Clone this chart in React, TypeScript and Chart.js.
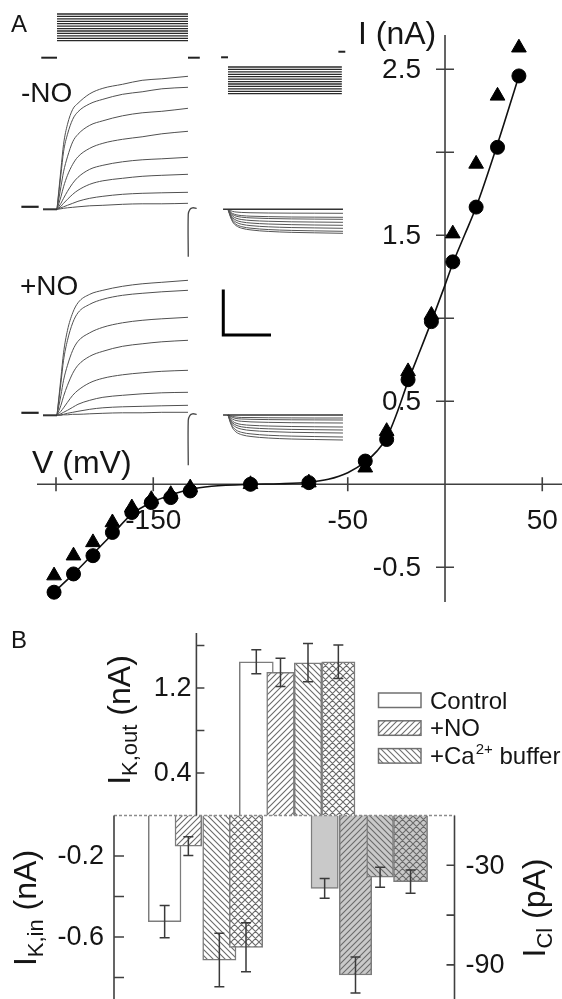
import React, { useEffect, useRef } from 'react';
import { Chart, registerables } from 'chart.js';
Chart.register(...registerables);

const FONT = '"Liberation Sans", Arial, Helvetica, sans-serif';

// ================= Panel A: I–V relation =================
const IV_V = [-201, -191, -181, -171, -161, -151, -141, -131, -100, -70, -41, -30, -19, -7, 4, 16, 27, 38];
const IV_CONTROL = [-0.65, -0.54, -0.43, -0.29, -0.17, -0.11, -0.08, -0.04, 0, 0.01, 0.14, 0.27, 0.63, 0.98, 1.34, 1.67, 2.03, 2.46];
const IV_PLUS_NO = [-0.55, -0.43, -0.35, -0.23, -0.14, -0.09, -0.06, -0.02, 0, 0.01, 0.1, 0.32, 0.68, 1.02, 1.51, 1.93, 2.34, 2.63];
const FIT_V = [-202, -191, -181, -171, -161, -151, -141, -131, -120, -100, -85, -70, -60, -50, -41, -35, -30, -25, -19, -13, -7, 0, 4, 10, 16, 27, 38];
const FIT_I = [-0.66, -0.54, -0.42, -0.3, -0.18, -0.11, -0.065, -0.03, -0.012, 0, 0.003, 0.012, 0.03, 0.07, 0.135, 0.2, 0.28, 0.42, 0.62, 0.8, 0.98, 1.2, 1.33, 1.5, 1.67, 2.05, 2.46];
const IV_X_TICKS = [-200, -150, -100, -50, 50];
const IV_X_LABELS = ['', '-150', '', '-50', '50'];
const IV_Y_TICKS = [-0.5, 0.5, 1, 1.5, 2, 2.5];
const IV_Y_LABELS = ['-0.5', '0.5', '', '1.5', '', '2.5'];
const IV_X_TITLE = 'V (mV)';
const IV_Y_TITLE = 'I (nA)';
const LABEL_MINUS = '-NO';
const LABEL_PLUS = '+NO';

// voltage protocols (mV)
const HOLD_MV = -100;
const PROTO_OUT_MV = [-30, -20, -10, 0, 10, 20, 30, 40, 50, 60, 70, 80];
const PROTO_IN_MV = [-140, -150, -160, -170, -180, -190, -200, -210, -220, -230, -240, -250];

// outward current traces (time in ms, current in nA)
const T_OUT = [0, 3, 5, 8, 12, 16, 25, 35, 50, 65, 80, 100];
const OUT_MINUS_NO = [
  [0, 0.8, 1.3, 1.7, 2.0, 2.12, 2.31, 2.42, 2.5, 2.58, 2.61, 2.66],
  [0, 0.7, 1.15, 1.5, 1.8, 1.95, 2.11, 2.2, 2.3, 2.35, 2.41, 2.44],
  [0, 0.45, 0.75, 1.05, 1.35, 1.5, 1.68, 1.77, 1.87, 1.93, 1.96, 2.02],
  [0, 0.25, 0.45, 0.68, 0.9, 1.05, 1.22, 1.32, 1.4, 1.45, 1.51, 1.56],
  [0, 0.12, 0.22, 0.36, 0.52, 0.64, 0.8, 0.88, 0.95, 0.99, 1.01, 1.04],
  [0, 0.06, 0.12, 0.2, 0.3, 0.38, 0.5, 0.57, 0.62, 0.66, 0.68, 0.7],
  [0, 0.03, 0.05, 0.08, 0.12, 0.16, 0.22, 0.26, 0.3, 0.32, 0.33, 0.34],
  [0, 0.01, 0.02, 0.03, 0.04, 0.05, 0.07, 0.08, 0.1, 0.11, 0.11, 0.12],
];
const OUT_PLUS_NO = [
  [0, 0.75, 1.25, 1.7, 2.05, 2.25, 2.42, 2.5, 2.58, 2.63, 2.66, 2.7],
  [0, 0.65, 1.1, 1.5, 1.85, 2.05, 2.22, 2.32, 2.4, 2.44, 2.47, 2.5],
  [0, 0.4, 0.7, 1.0, 1.3, 1.48, 1.65, 1.76, 1.85, 1.9, 1.93, 1.96],
  [0, 0.2, 0.38, 0.6, 0.84, 1.0, 1.18, 1.28, 1.38, 1.43, 1.47, 1.5],
  [0, 0.08, 0.15, 0.26, 0.4, 0.5, 0.65, 0.74, 0.81, 0.85, 0.88, 0.9],
  [0, 0.03, 0.06, 0.1, 0.16, 0.22, 0.3, 0.36, 0.4, 0.43, 0.45, 0.46],
  [0, 0.01, 0.02, 0.04, 0.06, 0.08, 0.12, 0.15, 0.17, 0.18, 0.19, 0.2],
  [0, 0, 0.01, 0.01, 0.02, 0.02, 0.03, 0.04, 0.05, 0.05, 0.06, 0.06],
];
const TAIL_T = [100.2, 100.2, 101.5, 103.5, 106.6];
const TAIL_MINUS_NO = [-0.95, -0.1, 0.0, 0.03, 0.02];
const TAIL_PLUS_NO = [-1.0, -0.1, 0.0, 0.03, 0.02];

// inward current traces
const T_IN = [0, 2, 4, 7, 12, 20, 35, 55, 75, 100];
const IN_MINUS_NO = [
  [0, -0.024, -0.042, -0.054, -0.063, -0.069, -0.074, -0.077, -0.078, -0.08],
  [0, -0.048, -0.083, -0.109, -0.126, -0.138, -0.147, -0.154, -0.157, -0.16],
  [0, -0.06, -0.104, -0.136, -0.158, -0.172, -0.184, -0.192, -0.196, -0.2],
  [0, -0.078, -0.135, -0.177, -0.205, -0.224, -0.239, -0.25, -0.255, -0.26],
  [0, -0.096, -0.166, -0.218, -0.253, -0.275, -0.294, -0.307, -0.314, -0.32],
  [0, -0.114, -0.198, -0.258, -0.3, -0.327, -0.35, -0.365, -0.372, -0.38],
  [0, -0.132, -0.229, -0.3, -0.348, -0.378, -0.405, -0.422, -0.431, -0.44],
  [0, -0.144, -0.25, -0.326, -0.379, -0.413, -0.442, -0.461, -0.47, -0.48],
];
const IN_PLUS_NO = [
  [0, -0.02, -0.03, -0.04, -0.05, -0.05, -0.055, -0.058, -0.06, -0.06],
  [0, -0.03, -0.05, -0.07, -0.08, -0.086, -0.092, -0.096, -0.098, -0.1],
  [0, -0.05, -0.083, -0.11, -0.126, -0.138, -0.147, -0.154, -0.157, -0.16],
  [0, -0.072, -0.125, -0.163, -0.19, -0.206, -0.22, -0.23, -0.235, -0.24],
  [0, -0.09, -0.156, -0.204, -0.237, -0.258, -0.276, -0.288, -0.294, -0.3],
  [0, -0.108, -0.187, -0.245, -0.284, -0.31, -0.331, -0.346, -0.353, -0.36],
  [0, -0.132, -0.229, -0.3, -0.348, -0.378, -0.405, -0.422, -0.431, -0.44],
  [0, -0.15, -0.26, -0.34, -0.395, -0.43, -0.46, -0.48, -0.49, -0.5],
];
const SCALE_BAR_NA = 0.91;
const SCALE_BAR_MS = 41.5;

// ================= Panel B: bar summary =================
const CONDITIONS = ['Control', '+NO', '+Ca2+ buffer', '+NO +Ca2+ buffer'];
const K_OUT_MEAN = [1.447, 1.348, 1.438, 1.447];
const K_OUT_SEM = [0.113, 0.133, 0.18, 0.158];
const K_IN_MEAN = [-0.524, -0.151, -0.714, -0.651];
const K_IN_SEM = [0.08, 0.046, 0.132, 0.121];
const CL_MEAN = [-43.9, -96.1, -37.2, -39.9];
const CL_SEM = [6, 10.8, 6, 7];
const B_OUT_TICKS = [0.4, 0.8, 1.2, 1.6];
const B_OUT_LABELS = ['0.4', '', '1.2', ''];
const B_IN_TICKS = [-0.2, -0.4, -0.6, -0.8];
const B_IN_LABELS = ['-0.2', '', '-0.6', ''];
const B_CL_TICKS = [-30, -60, -90];
const B_CL_LABELS = ['-30', '', '-90'];

// ---------- layout (pixels) ----------
const B_X0 = 114; // page x of chart-area left edge in panel B
const B_SLOTS: Record<string, number[][]> = {
  kin: [[148.3, 181], [175, 201.7], [202.7, 236], [229.3, 262.7]],
  kout: [[239.3, 273.3], [266.7, 294.3], [294.3, 321.7], [321.7, 355]],
  cl: [[311, 338.3], [339.3, 371.7], [366.7, 393.5], [393.5, 427.6]],
};
const B_AXIS_OUT_X = 196.4 - B_X0;

type Pt = { x: number; y: number };
const pts = (xs: number[], ys: number[]): Pt[] => xs.map((x, i) => ({ x, y: ys[i] }));
const seg = (x0: number, x1: number, y: number): Pt[] => [{ x: x0, y }, { x: x1, y }];

function lineDs(data: Pt[], color: string, width: number, extra: any = {}) {
  return {
    type: 'line',
    data,
    borderColor: color,
    borderWidth: width,
    pointRadius: 0,
    fill: false,
    cubicInterpolationMode: 'monotone',
    borderCapStyle: 'butt',
    ...extra,
  };
}

function traceConfig(datasets: any[], xr: number[], yr: number[]) {
  return {
    type: 'line',
    data: { datasets },
    options: {
      animation: false,
      responsive: false,
      maintainAspectRatio: false,
      layout: { padding: 0, autoPadding: false },
      scales: {
        x: { type: 'linear', display: false, min: xr[0], max: xr[1] },
        y: { type: 'linear', display: false, min: yr[0], max: yr[1] },
      },
      plugins: { legend: { display: false }, tooltip: { enabled: false } },
    },
  };
}

const X_OUT = [-32.06, 112.98];
const X_IN = [-20, 114.8];

const makeProtoOut = () =>
  traceConfig(
    [
      ...PROTO_OUT_MV.map((v) => lineDs(seg(0, 100, v), '#2a2a2a', 1.3)),
      lineDs(seg(-12, 0, HOLD_MV), '#222', 2),
      lineDs(seg(100, 109, HOLD_MV), '#222', 2),
    ],
    X_OUT,
    [-130.1, 117.1]
  );

const makeProtoIn = () =>
  traceConfig(
    [
      ...PROTO_IN_MV.map((v) => lineDs(seg(0, 99, v), '#2a2a2a', 1.3)),
      lineDs(seg(-6, 0, HOLD_MV), '#222', 2),
      lineDs(seg(96, 102, HOLD_MV + 23), '#222', 2),
    ],
    X_IN,
    [-275.9, -49.3]
  );

const makeOut = (traces: number[][], tail: number[]) => () =>
  traceConfig(
    [
      lineDs(seg(-27.2, -14, 0.05), '#222', 2.2),
      lineDs(seg(-10.7, 0, 0), '#333', 2),
      ...traces.map((t) => lineDs(pts(T_OUT, t), '#505050', 1)),
      lineDs(pts(TAIL_T, tail), '#444', 1.3, { cubicInterpolationMode: 'default', tension: 0.3 }),
    ],
    X_OUT,
    [-1.214, 2.986]
  );

const makeInMinus = () =>
  traceConfig(
    [
      lineDs(seg(-4.3, 100, 0), '#333', 1.6),
      ...IN_MINUS_NO.map((t) => lineDs(pts(T_IN, t), '#555', 1)),
    ],
    X_IN,
    [-0.714, 0.286]
  );

const makeInPlus = () =>
  traceConfig(
    [
      lineDs(seg(-4.3, 100, 0), '#333', 1.6),
      ...IN_PLUS_NO.map((t) => lineDs(pts(T_IN, t), '#555', 1)),
      lineDs(
        [
          { x: -4.1, y: 1.6 + SCALE_BAR_NA },
          { x: -4.1, y: 1.6 },
          { x: -4.1 + SCALE_BAR_MS, y: 1.6 },
        ],
        '#000',
        3,
        { cubicInterpolationMode: 'default', tension: 0, borderJoinStyle: 'miter' }
      ),
    ],
    X_IN,
    [-0.7, 2.7]
  );

const ivDecor = {
  id: 'ivDecor',
  beforeDatasetsDraw(chart: any) {
    const { ctx, chartArea: a, scales } = chart;
    const xs = scales.x;
    const ys = scales.y;
    const x0 = xs.getPixelForValue(0);
    const y0 = ys.getPixelForValue(0);
    ctx.save();
    ctx.strokeStyle = '#404040';
    ctx.lineWidth = 1.6;
    ctx.beginPath();
    ctx.moveTo(a.left, y0);
    ctx.lineTo(a.right, y0);
    ctx.moveTo(x0, a.top);
    ctx.lineTo(x0, a.bottom);
    IV_X_TICKS.forEach((v) => {
      const p = xs.getPixelForValue(v);
      ctx.moveTo(p, y0 - 7);
      ctx.lineTo(p, y0 + 7);
    });
    IV_Y_TICKS.forEach((v) => {
      const p = ys.getPixelForValue(v);
      ctx.moveTo(x0 - 9, p);
      ctx.lineTo(x0 + 9, p);
    });
    ctx.stroke();
    ctx.fillStyle = '#151515';
    ctx.font = `28px ${FONT}`;
    ctx.textAlign = 'center';
    ctx.textBaseline = 'top';
    IV_X_TICKS.forEach((v, i) => {
      if (IV_X_LABELS[i]) ctx.fillText(IV_X_LABELS[i], xs.getPixelForValue(v), y0 + 23);
    });
    ctx.textAlign = 'right';
    ctx.textBaseline = 'middle';
    IV_Y_TICKS.forEach((v, i) => {
      if (IV_Y_LABELS[i]) ctx.fillText(IV_Y_LABELS[i], x0 - 24, ys.getPixelForValue(v) + 1);
    });
    ctx.textAlign = 'left';
    ctx.textBaseline = 'alphabetic';
    ctx.font = `32px ${FONT}`;
    ctx.fillText(IV_Y_TITLE, 358, 44);
    ctx.fillText(IV_X_TITLE, 32, 473);
    ctx.font = `24px ${FONT}`;
    ctx.fillText('A', 11, 32);
    ctx.font = `28px ${FONT}`;
    ctx.fillText(LABEL_MINUS, 21, 102);
    ctx.fillText(LABEL_PLUS, 20, 295);
    ctx.restore();
  },
};

const makeIV = () => ({
  type: 'scatter',
  data: {
    datasets: [
      {
        label: 'Control',
        data: pts(IV_V, IV_CONTROL),
        pointStyle: 'circle',
        pointRadius: 7,
        borderWidth: 1,
        backgroundColor: '#000',
        borderColor: '#000',
      },
      {
        label: '+NO',
        data: pts(IV_V, IV_PLUS_NO),
        pointStyle: 'triangle',
        pointRadius: 8.5,
        borderWidth: 1,
        backgroundColor: '#000',
        borderColor: '#000',
      },
      {
        label: 'fit',
        data: pts(FIT_V, FIT_I),
        showLine: true,
        pointRadius: 0,
        borderColor: '#111',
        borderWidth: 1.6,
        cubicInterpolationMode: 'monotone',
      },
    ],
  },
  options: {
    animation: false,
    responsive: false,
    maintainAspectRatio: false,
    layout: { padding: { left: 37, top: 35, right: 0, bottom: 18 }, autoPadding: false },
    scales: {
      x: { type: 'linear', display: false, min: -209.77, max: 60.15 },
      y: { type: 'linear', display: false, min: -0.709, max: 2.7066 },
    },
    plugins: { legend: { display: false }, tooltip: { enabled: false } },
  },
  plugins: [ivDecor],
});

function makeHatch(kind: string, bg: string, line: string) {
  const s = kind === 'cross' ? 7 : 6;
  const c = document.createElement('canvas');
  c.width = s;
  c.height = s;
  const g = c.getContext('2d')!;
  g.fillStyle = bg;
  g.fillRect(0, 0, s, s);
  g.strokeStyle = line;
  g.lineWidth = 1.1;
  g.beginPath();
  if (kind === 'fwd' || kind === 'cross') {
    g.moveTo(-1, s + 1);
    g.lineTo(s + 1, -1);
    g.moveTo(-1, 1);
    g.lineTo(1, -1);
    g.moveTo(s - 1, s + 1);
    g.lineTo(s + 1, s - 1);
  }
  if (kind === 'back' || kind === 'cross') {
    g.moveTo(-1, -1);
    g.lineTo(s + 1, s + 1);
    g.moveTo(s - 1, -1);
    g.lineTo(s + 1, 1);
    g.moveTo(-1, s - 1);
    g.lineTo(1, s + 1);
  }
  g.stroke();
  return g.createPattern(c, 'repeat');
}

const KINDS = ['none', 'fwd', 'back', 'cross'];

function drawRotTitle(ctx: any, cx: number, cy: number, main: string, sub: string, rest: string, size: number) {
  ctx.save();
  ctx.translate(cx, cy);
  ctx.rotate(-Math.PI / 2);
  ctx.textAlign = 'left';
  ctx.textBaseline = 'alphabetic';
  ctx.font = `${size}px ${FONT}`;
  const w1 = ctx.measureText(main).width;
  const w3 = ctx.measureText(rest).width;
  const subSize = Math.round(size * 0.68);
  ctx.font = `${subSize}px ${FONT}`;
  const w2 = ctx.measureText(sub).width;
  let x = -(w1 + w2 + w3) / 2;
  const base = size * 0.36;
  ctx.font = `${size}px ${FONT}`;
  ctx.fillText(main, x, base);
  x += w1;
  ctx.font = `${subSize}px ${FONT}`;
  ctx.fillText(sub, x, base + size * 0.22);
  x += w2;
  ctx.font = `${size}px ${FONT}`;
  ctx.fillText(rest, x, base);
  ctx.restore();
}

const bDecor = {
  id: 'bDecor',
  afterDatasetsDraw(chart: any) {
    const { ctx, chartArea: a, scales } = chart;
    const { x: xs, yIn, yOut, yCl } = scales;
    const z = yIn.getPixelForValue(0);
    ctx.save();
    // error bars
    ctx.strokeStyle = '#3a3a3a';
    ctx.lineWidth = 1.5;
    chart.data.datasets.forEach((ds: any, i: number) => {
      const bar = chart.getDatasetMeta(i).data[0];
      const sc = scales[ds.yAxisID];
      const v = ds.data[0].y;
      const e = ds.errorBars[0];
      const t = sc.getPixelForValue(v + e);
      const b = sc.getPixelForValue(v - e);
      ctx.beginPath();
      ctx.moveTo(bar.x, t);
      ctx.lineTo(bar.x, b);
      ctx.moveTo(bar.x - 5, t);
      ctx.lineTo(bar.x + 5, t);
      ctx.moveTo(bar.x - 5, b);
      ctx.lineTo(bar.x + 5, b);
      ctx.stroke();
    });
    // zero line
    ctx.strokeStyle = '#8c8c8c';
    ctx.setLineDash([3, 2]);
    ctx.beginPath();
    ctx.moveTo(a.left, z);
    ctx.lineTo(a.right, z);
    ctx.stroke();
    ctx.setLineDash([]);
    // axes
    const xo = xs.getPixelForValue(B_AXIS_OUT_X);
    ctx.strokeStyle = '#404040';
    ctx.lineWidth = 1.6;
    ctx.beginPath();
    ctx.moveTo(xo, z);
    ctx.lineTo(xo, a.top);
    B_OUT_TICKS.forEach((v) => {
      const p = yOut.getPixelForValue(v);
      ctx.moveTo(xo, p);
      ctx.lineTo(xo + 8, p);
    });
    ctx.moveTo(a.left, z);
    ctx.lineTo(a.left, a.bottom);
    B_IN_TICKS.forEach((v) => {
      const p = yIn.getPixelForValue(v);
      ctx.moveTo(a.left, p);
      ctx.lineTo(a.left + 10, p);
    });
    ctx.moveTo(a.right, z);
    ctx.lineTo(a.right, a.bottom);
    B_CL_TICKS.forEach((v) => {
      const p = yCl.getPixelForValue(v);
      ctx.moveTo(a.right, p);
      ctx.lineTo(a.right - 8, p);
    });
    ctx.stroke();
    // tick labels
    ctx.fillStyle = '#151515';
    ctx.font = `27px ${FONT}`;
    ctx.textBaseline = 'middle';
    ctx.textAlign = 'right';
    B_OUT_TICKS.forEach((v, i) => {
      if (B_OUT_LABELS[i]) ctx.fillText(B_OUT_LABELS[i], xo - 5, yOut.getPixelForValue(v) + 1);
    });
    B_IN_TICKS.forEach((v, i) => {
      if (B_IN_LABELS[i]) ctx.fillText(B_IN_LABELS[i], a.left - 10, yIn.getPixelForValue(v) + 1);
    });
    ctx.textAlign = 'left';
    B_CL_TICKS.forEach((v, i) => {
      if (B_CL_LABELS[i]) ctx.fillText(B_CL_LABELS[i], a.right + 11, yCl.getPixelForValue(v) + 1);
    });
    // axis titles
    drawRotTitle(ctx, 118, 100, 'I', 'K,out', ' (nA)', 32);
    drawRotTitle(ctx, 24, 288, 'I', 'K,in', ' (nA)', 32);
    drawRotTitle(ctx, 533, 288, 'I', 'Cl', ' (pA)', 32);
    // panel letter
    ctx.textBaseline = 'alphabetic';
    ctx.textAlign = 'left';
    ctx.font = `24px ${FONT}`;
    ctx.fillText('B', 11, 28);
    // legend
    const legend = [
      { kind: 'none', text: 'Control' },
      { kind: 'fwd', text: '+NO' },
      { kind: 'back', text: '+Ca', sup: '2+', after: ' buffer' },
    ];
    legend.forEach((item: any, i: number) => {
      const by = 73 + i * 27.8;
      ctx.fillStyle = makeHatch(item.kind, '#ffffff', '#707070');
      ctx.fillRect(378.5, by, 42.5, 14.5);
      ctx.strokeStyle = '#707070';
      ctx.lineWidth = 1.5;
      ctx.strokeRect(378.5, by, 42.5, 14.5);
      const base = 88.5 + i * 27.5;
      ctx.fillStyle = '#151515';
      ctx.font = `24px ${FONT}`;
      let tx = 430;
      ctx.fillText(item.text, tx, base);
      tx += ctx.measureText(item.text).width;
      if (item.sup) {
        ctx.font = `15px ${FONT}`;
        ctx.fillText(item.sup, tx + 1, base - 10);
        tx += ctx.measureText(item.sup).width + 1;
        ctx.font = `24px ${FONT}`;
        ctx.fillText(item.after, tx, base);
      }
    });
    ctx.restore();
  },
};

const makeB = () => {
  const groups = [
    { key: 'kin', axis: 'yIn', mean: K_IN_MEAN, sem: K_IN_SEM, bg: '#ffffff' },
    { key: 'kout', axis: 'yOut', mean: K_OUT_MEAN, sem: K_OUT_SEM, bg: '#ffffff' },
    { key: 'cl', axis: 'yCl', mean: CL_MEAN, sem: CL_SEM, bg: '#c9c9c9' },
  ];
  const datasets = groups.flatMap((g) =>
    CONDITIONS.map((name, i) => {
      const [l, r] = B_SLOTS[g.key][i];
      return {
        type: 'bar',
        label: `${name} (${g.key})`,
        data: [{ x: (l + r) / 2 - B_X0, y: g.mean[i] }],
        xAxisID: 'x',
        yAxisID: g.axis,
        stack: 'all',
        barThickness: r - l,
        backgroundColor: makeHatch(KINDS[i], g.bg, '#6a6a6a'),
        borderColor: '#7c7c7c',
        borderWidth: 1.5,
        order: 4 - i,
        errorBars: [g.sem[i]],
      };
    })
  );
  return {
    type: 'bar',
    data: { datasets },
    options: {
      animation: false,
      responsive: false,
      maintainAspectRatio: false,
      layout: { padding: { left: B_X0, top: 13, right: 107.5, bottom: 0 }, autoPadding: false },
      scales: {
        x: { type: 'linear', display: false, min: 0, max: 340.5, offset: false },
        yOut: { axis: 'y', type: 'linear', display: false, min: -1.7271, max: 1.7176, stacked: false },
        yIn: { axis: 'y', type: 'linear', display: false, min: -0.9062, max: 0.9012, stacked: false },
        yCl: { axis: 'y', type: 'linear', display: false, min: -110.54, max: 109.94, stacked: false },
      },
      plugins: { legend: { display: false }, tooltip: { enabled: false } },
    },
    plugins: [bDecor],
  };
};

function ChartCanvas({ left, top, width, height, make }: any) {
  const ref = useRef<HTMLCanvasElement>(null);
  useEffect(() => {
    const chart = new Chart(ref.current as HTMLCanvasElement, make());
    return () => chart.destroy();
  }, []);
  return (
    <canvas
      ref={ref}
      width={width}
      height={height}
      style={{ position: 'absolute', left, top, width, height, display: 'block' }}
    />
  );
}

export default function App() {
  return (
    <div style={{ position: 'absolute', left: 0, top: 0, width: 562, height: 999, background: '#fff', overflow: 'hidden' }}>
      <ChartCanvas left={0} top={0} width={562} height={620} make={makeIV} />
      <ChartCanvas left={15} top={5} width={190} height={60} make={makeProtoOut} />
      <ChartCanvas left={205} top={45} width={155} height={55} make={makeProtoIn} />
      <ChartCanvas left={15} top={60} width={190} height={210} make={makeOut(OUT_MINUS_NO, TAIL_MINUS_NO)} />
      <ChartCanvas left={15} top={266} width={190} height={210} make={makeOut(OUT_PLUS_NO, TAIL_PLUS_NO)} />
      <ChartCanvas left={205} top={195} width={155} height={50} make={makeInMinus} />
      <ChartCanvas left={205} top={280} width={155} height={170} make={makeInPlus} />
      <ChartCanvas left={0} top={620} width={562} height={379} make={makeB} />
    </div>
  );
}
